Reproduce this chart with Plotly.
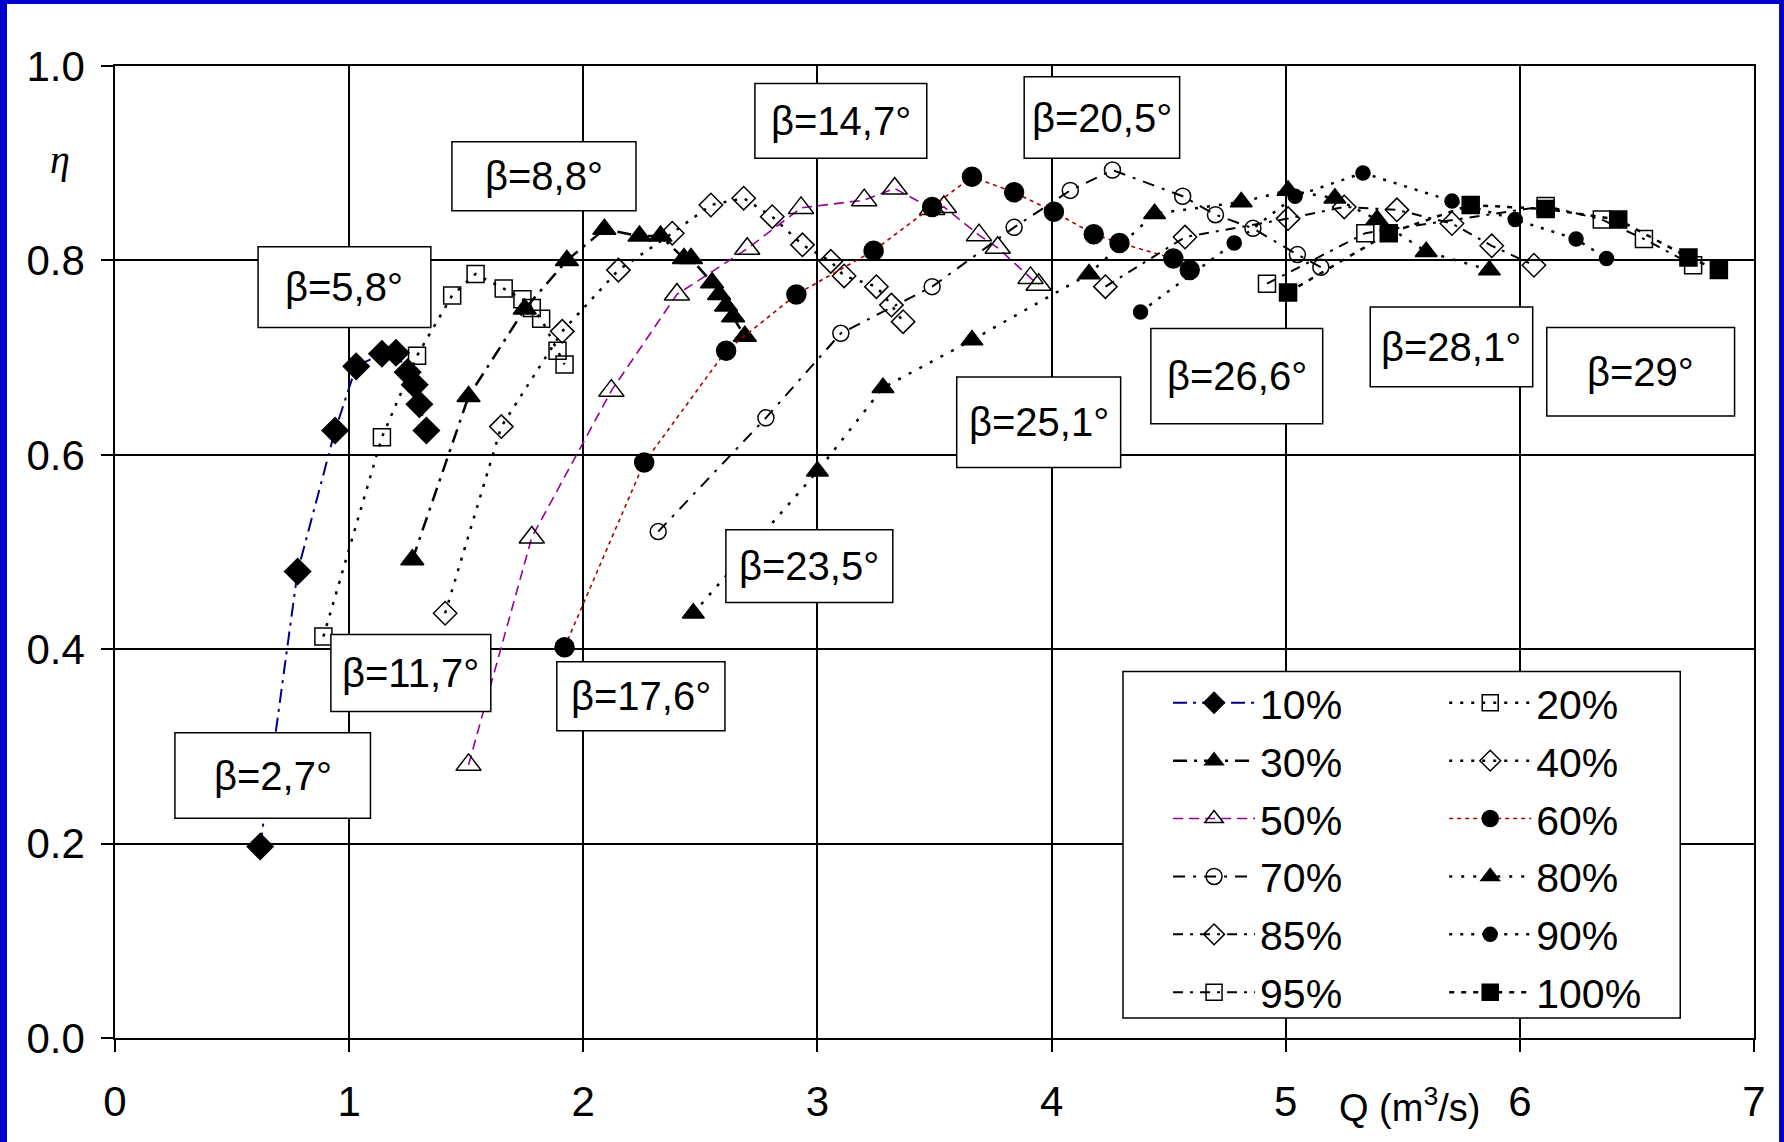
import plotly.graph_objects as go

# Efficiency (eta) versus discharge Q for each gate opening
q10 = [0.62, 0.78, 0.94, 1.03, 1.14, 1.20, 1.25, 1.28, 1.30, 1.33]
eta10 = [0.197, 0.480, 0.625, 0.691, 0.704, 0.705, 0.685, 0.672, 0.652, 0.625]

q20 = [0.89, 1.14, 1.29, 1.44, 1.54, 1.66, 1.74, 1.78, 1.82, 1.89, 1.92]
eta20 = [0.413, 0.618, 0.702, 0.764, 0.786, 0.771, 0.760, 0.751, 0.740, 0.707, 0.693]

q30 = [1.27, 1.51, 1.75, 1.93, 2.09, 2.24, 2.33, 2.43, 2.46, 2.55, 2.58, 2.61, 2.64, 2.69]
eta30 = [0.492, 0.660, 0.750, 0.800, 0.832, 0.825, 0.825, 0.802, 0.802, 0.777, 0.765, 0.753, 0.742, 0.722]

q40 = [1.41, 1.65, 1.91, 2.15, 2.38, 2.545, 2.685, 2.807, 2.936, 3.057, 3.114, 3.252, 3.316, 3.366]
eta40 = [0.437, 0.629, 0.727, 0.790, 0.828, 0.857, 0.864, 0.845, 0.816, 0.799, 0.784, 0.773, 0.754, 0.737]

q50 = [1.51, 1.78, 2.12, 2.40, 2.70, 2.93, 3.20, 3.33, 3.49, 3.54, 3.69, 3.77, 3.91, 3.945]
eta50 = [0.281, 0.515, 0.666, 0.765, 0.812, 0.854, 0.862, 0.874, 0.853, 0.855, 0.826, 0.813, 0.782, 0.775]

q60 = [1.92, 2.26, 2.61, 2.91, 3.24, 3.49, 3.66, 3.84, 4.01, 4.18, 4.29, 4.52, 4.59]
eta60 = [0.402, 0.592, 0.707, 0.765, 0.810, 0.855, 0.886, 0.870, 0.850, 0.827, 0.818, 0.802, 0.790]

q70 = [2.32, 2.78, 3.10, 3.49, 3.84, 4.08, 4.26, 4.56, 4.70, 4.86, 5.05, 5.15]
eta70 = [0.521, 0.638, 0.725, 0.773, 0.834, 0.872, 0.893, 0.866, 0.847, 0.833, 0.806, 0.793]

q80 = [2.47, 3.00, 3.28, 3.66, 4.16, 4.44, 4.81, 5.01, 5.21, 5.39, 5.60, 5.87]
eta80 = [0.437, 0.583, 0.669, 0.718, 0.786, 0.848, 0.860, 0.872, 0.864, 0.842, 0.809, 0.790]

q85 = [4.23, 4.57, 5.01, 5.25, 5.475, 5.71, 5.88, 6.06]
eta85 = [0.773, 0.824, 0.843, 0.855, 0.852, 0.838, 0.815, 0.795]

q90 = [4.38, 4.78, 5.04, 5.33, 5.71, 5.98, 6.24, 6.37]
eta90 = [0.747, 0.818, 0.866, 0.890, 0.861, 0.842, 0.822, 0.802]

q95 = [4.92, 5.34, 6.11, 6.35, 6.53, 6.74]
eta95 = [0.776, 0.828, 0.856, 0.842, 0.822, 0.795]

q100 = [5.01, 5.44, 5.79, 6.11, 6.42, 6.72, 6.85]
eta100 = [0.767, 0.828, 0.857, 0.853, 0.842, 0.803, 0.790]

series_names = ["10%", "20%", "30%", "40%", "50%", "60%",
                "70%", "80%", "85%", "90%", "95%", "100%"]

# Blade angle labels
beta_labels = ["β=2,7°", "β=5,8°", "β=8,8°", "β=11,7°", "β=14,7°", "β=17,6°",
               "β=20,5°", "β=23,5°", "β=25,1°", "β=26,6°", "β=28,1°", "β=29°"]

FONT = "Liberation Sans, Arial, sans-serif"
BLACK = "#000000"

# name -> (x, y, marker symbol, marker size, line colour, line width, dash, legend)
styles = {
    "10%": (q10, eta10, "diamond", 20, "#000080", 2.0, "14px,6px,3px,6px", "legend"),
    "20%": (q20, eta20, "square-open", 17, BLACK, 2.5, "3px,8px", "legend2"),
    "30%": (q30, eta30, "triangle-up", 20, BLACK, 2.5, "14px,7px,3px,7px", "legend"),
    "40%": (q40, eta40, "diamond-open", 18, BLACK, 2.5, "3px,8px", "legend2"),
    "50%": (q50, eta50, "triangle-up-open", 22, "#990099", 1.6, "10px,6px", "legend"),
    "60%": (q60, eta60, "circle", 19, "#aa0000", 1.6, "4px,4px", "legend2"),
    "70%": (q70, eta70, "circle-open", 16, BLACK, 2.0, "12px,8px,3px,8px", "legend"),
    "80%": (q80, eta80, "triangle-up", 19, BLACK, 2.5, "3px,9px", "legend2"),
    "85%": (q85, eta85, "diamond-open", 18, BLACK, 2.0, "10px,7px,3px,7px", "legend"),
    "90%": (q90, eta90, "circle", 14, BLACK, 2.5, "3px,8px", "legend2"),
    "95%": (q95, eta95, "square-open", 17, BLACK, 2.0, "10px,7px,3px,7px", "legend"),
    "100%": (q100, eta100, "square", 17, BLACK, 2.5, "5px,7px", "legend2"),
}

fig = go.Figure()
for name in series_names:
    xs, ys, sym, size, lcol, lw, dash, leg = styles[name]
    fig.add_trace(go.Scatter(
        x=xs, y=ys, name=name, mode="lines+markers",
        line=dict(color=lcol, width=lw, dash=dash),
        marker=dict(symbol=sym, size=size, color=BLACK,
                    line=dict(color=BLACK, width=1.5)),
        legend=leg, legendgroup=name,
    ))

# Label boxes (data coordinates: x0, x1, y0, y1)
box_extents = [
    (0.256, 1.091, 0.226, 0.314),
    (0.611, 1.349, 0.731, 0.814),
    (1.439, 2.225, 0.851, 0.922),
    (0.922, 1.605, 0.336, 0.415),
    (2.733, 3.467, 0.905, 0.982),
    (1.887, 2.605, 0.316, 0.387),
    (3.883, 4.547, 0.905, 0.989),
    (2.609, 3.322, 0.448, 0.523),
    (3.595, 4.295, 0.587, 0.680),
    (4.424, 5.158, 0.632, 0.730),
    (5.361, 6.055, 0.670, 0.752),
    (6.115, 6.917, 0.640, 0.731),
]

shapes = [
    # white page inside the blue frame
    dict(type="rect", xref="paper", yref="paper", x0=-0.0659, x1=1.0153,
         y0=-0.2, y1=1.0638, fillcolor="white", line=dict(width=0), layer="below"),
    # legend frame
    dict(type="rect", xref="paper", yref="paper", x0=0.615, x1=0.955,
         y0=0.0206, y1=0.377, fillcolor="white",
         line=dict(color=BLACK, width=1.5), layer="above"),
]
annotations = []
for text, (x0, x1, y0, y1) in zip(beta_labels, box_extents):
    shapes.append(dict(type="rect", xref="x", yref="y", x0=x0, x1=x1, y0=y0, y1=y1,
                       fillcolor="white", line=dict(color=BLACK, width=1.5),
                       layer="above"))
    annotations.append(dict(x=(x0 + x1) / 2, y=(y0 + y1) / 2, xref="x", yref="y",
                            text=text, showarrow=False,
                            font=dict(family=FONT, size=40, color=BLACK)))

annotations.append(dict(x=5.53, y=-0.096, xref="x", yref="paper",
                        text="Q (m<sup>3</sup>/s)", showarrow=False,
                        font=dict(family=FONT, size=38, color=BLACK)))
annotations.append(dict(x=-0.041, y=0.929, xref="paper", yref="paper",
                        text="<i>η</i>", showarrow=False,
                        font=dict(family="Liberation Serif, serif", size=40, color=BLACK)))

axis_common = dict(
    showgrid=True, gridcolor=BLACK, gridwidth=1.5,
    showline=True, linecolor=BLACK, linewidth=1.5, mirror=True,
    ticks="outside", ticklen=12, tickcolor=BLACK, tickwidth=1.5,
    tickfont=dict(family=FONT, size=42, color=BLACK),
    zeroline=False,
)

legend_common = dict(
    bgcolor="rgba(0,0,0,0)", borderwidth=0,
    font=dict(family=FONT, size=41, color=BLACK),
    itemwidth=82, tracegroupgap=1.6, orientation="v",
    xanchor="left", yanchor="top", traceorder="grouped",
)

fig.update_layout(
    width=1784, height=1142,
    margin=dict(l=115, r=30, t=66, b=104),
    paper_bgcolor="#0000cc", plot_bgcolor="white",
    xaxis=dict(range=[0, 7], dtick=1, tick0=0, ticklabelstandoff=14, **axis_common),
    yaxis=dict(range=[0, 1], dtick=0.2, tick0=0, tickformat=".1f",
               ticklabelstandoff=8, **axis_common),
    shapes=shapes,
    annotations=annotations,
    legend=dict(x=0.6425, y=0.379, **legend_common),
    legend2=dict(x=0.811, y=0.379, **legend_common),
    showlegend=True,
)

fig.write_html("out.html")
